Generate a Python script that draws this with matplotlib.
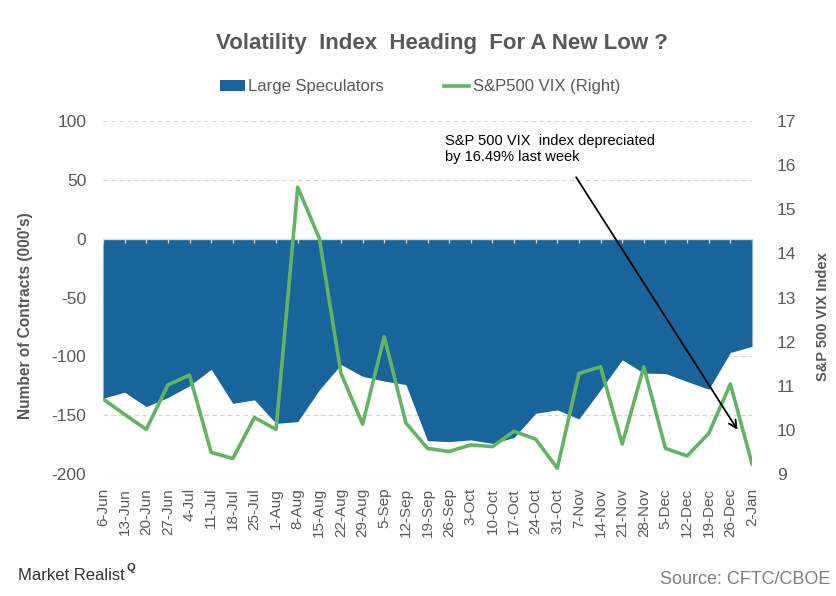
import matplotlib
matplotlib.use("Agg")
import matplotlib.pyplot as plt
import numpy as np
from matplotlib import font_manager as fm

names = {f.name for f in fm.fontManager.ttflist}
NARROW = 'Liberation Sans Narrow' if 'Liberation Sans Narrow' in names else 'Liberation Sans'
BASE = 'Liberation Sans'

dates = ["6-Jun", "13-Jun", "20-Jun", "27-Jun", "4-Jul", "11-Jul", "18-Jul", "25-Jul",
         "1-Aug", "8-Aug", "15-Aug", "22-Aug", "29-Aug", "5-Sep", "12-Sep", "19-Sep",
         "26-Sep", "3-Oct", "10-Oct", "17-Oct", "24-Oct", "31-Oct", "7-Nov", "14-Nov",
         "21-Nov", "28-Nov", "5-Dec", "12-Dec", "19-Dec", "26-Dec", "2-Jan"]
large_specs = [-135.6, -130.5, -142.7, -135, -125, -111, -140, -137, -157, -155.5,
               -128.5, -107, -117, -121, -124, -171.6, -172.5, -171, -174, -169,
               -148.4, -145.5, -153.2, -128.5, -103, -114.3, -114.6, -121.4, -128,
               -96.7, -91.6]
vix = [10.70, 10.35, 10.01, 11.02, 11.24, 9.49, 9.35, 10.28, 10.01, 15.50, 14.34,
       11.28, 10.13, 12.11, 10.16, 9.58, 9.51, 9.66, 9.62, 9.97, 9.79, 9.13, 11.28,
       11.43, 9.68, 11.43, 9.58, 9.41, 9.92, 11.04, 9.23]
left_ticks = [-200, -150, -100, -50, 0, 50, 100]
right_ticks = [9, 10, 11, 12, 13, 14, 15, 16, 17]

BLUE = '#19649A'
GREEN = '#62B462'
GRAY = '#595959'

W, H = 836, 596
fig = plt.figure(figsize=(W / 100, H / 100), dpi=100)
fig.patch.set_facecolor('white')
ax = fig.add_axes([103 / W, 1 - 474 / H, 649 / W, 353 / H])
x = np.arange(len(dates))

ax.set_xlim(0, len(dates) - 1)
ax.set_ylim(-200, 100)
ax.set_yticks(left_ticks)
ax.set_yticklabels([str(t) for t in left_ticks], fontsize=12.5, color=GRAY, family=BASE)
ax.yaxis.grid(True, color='#d4d4d4', linestyle=(0, (4, 3)), linewidth=0.8)
ax.set_axisbelow(True)
for s in ax.spines.values():
    s.set_visible(False)
ax.tick_params(axis='y', length=0, pad=12)

ax.fill_between(x, large_specs, 0, color=BLUE, linewidth=0, zorder=2, label='Large Speculators')
ax.axhline(0, color='#cfe0ea', linewidth=1.0, zorder=3)
ax.vlines(x, -3.5, 0, color='#cfe0ea', linewidth=0.9, zorder=3)

ax.set_xticks(x)
ax.set_xticklabels(dates, rotation=90, fontsize=11, color=GRAY, family=BASE)
ax.tick_params(axis='x', length=0, pad=10)

ax.set_ylabel("Number of Contracts (000's)", fontsize=11.2, color=GRAY,
              fontweight='bold', family=BASE)
ax.yaxis.set_label_coords(-0.108, 0.45)

ax2 = ax.twinx()
ax2.set_ylim(9, 17)
ax2.set_yticks(right_ticks)
ax2.set_yticklabels([str(t) for t in right_ticks], fontsize=12.5, color=GRAY, family=BASE)
for s in ax2.spines.values():
    s.set_visible(False)
ax2.tick_params(axis='y', length=0, pad=18)
ax2.plot(x, vix, color=GREEN, linewidth=2.6, zorder=4, label='S&P500 VIX (Right)')
ax2.set_ylabel("S&P 500 VIX Index", fontsize=10.5, color=GRAY, fontweight='bold',
               family=BASE, rotation=90)
ax2.yaxis.set_label_coords(1.099, 0.445)

# annotation
ax2.annotate('', xy=(29.4, 9.95), xytext=(21.8, 15.78),
             arrowprops=dict(arrowstyle='->', color='black', lw=1.3,
                             mutation_scale=14), zorder=6)
ax2.text(15.8, 16.7, "S&P 500 VIX  index depreciated\nby 16.49% last week",
         fontsize=10.5, color='black', family=BASE, va='top', ha='left',
         linespacing=1.15, zorder=6)

# title and legend
fig.text(442 / W, 1 - 44 / H, "Volatility  Index  Heading  For A New Low ?",
         fontsize=16, fontweight='bold', color=GRAY, family=NARROW,
         ha='center', va='center')
h1, l1 = ax.get_legend_handles_labels()
h2, l2 = ax2.get_legend_handles_labels()
leg = fig.legend(h1 + h2, l1 + l2, loc='center', bbox_to_anchor=(420 / W, 1 - 87 / H),
                 ncol=2, frameon=False, prop={'family': NARROW, 'size': 12},
                 handlelength=1.5, handleheight=0.6, handletextpad=0.2, columnspacing=3.6)
for t in leg.get_texts():
    t.set_color(GRAY)

fig.text(18 / W, 1 - 576 / H, "Market Realist", fontsize=12, color='#333333',
         family=NARROW, ha='left', va='center')
fig.text(126 / W, 1 - 568 / H, "Q", fontsize=8, color='#333333', family=BASE,
         fontweight='bold', ha='left', va='center')
fig.text(830 / W, 1 - 579 / H, "Source: CFTC/CBOE", fontsize=13, color='#7f7f7f',
         family=NARROW, ha='right', va='center')

fig.savefig('out.png', dpi=100, facecolor='white')
